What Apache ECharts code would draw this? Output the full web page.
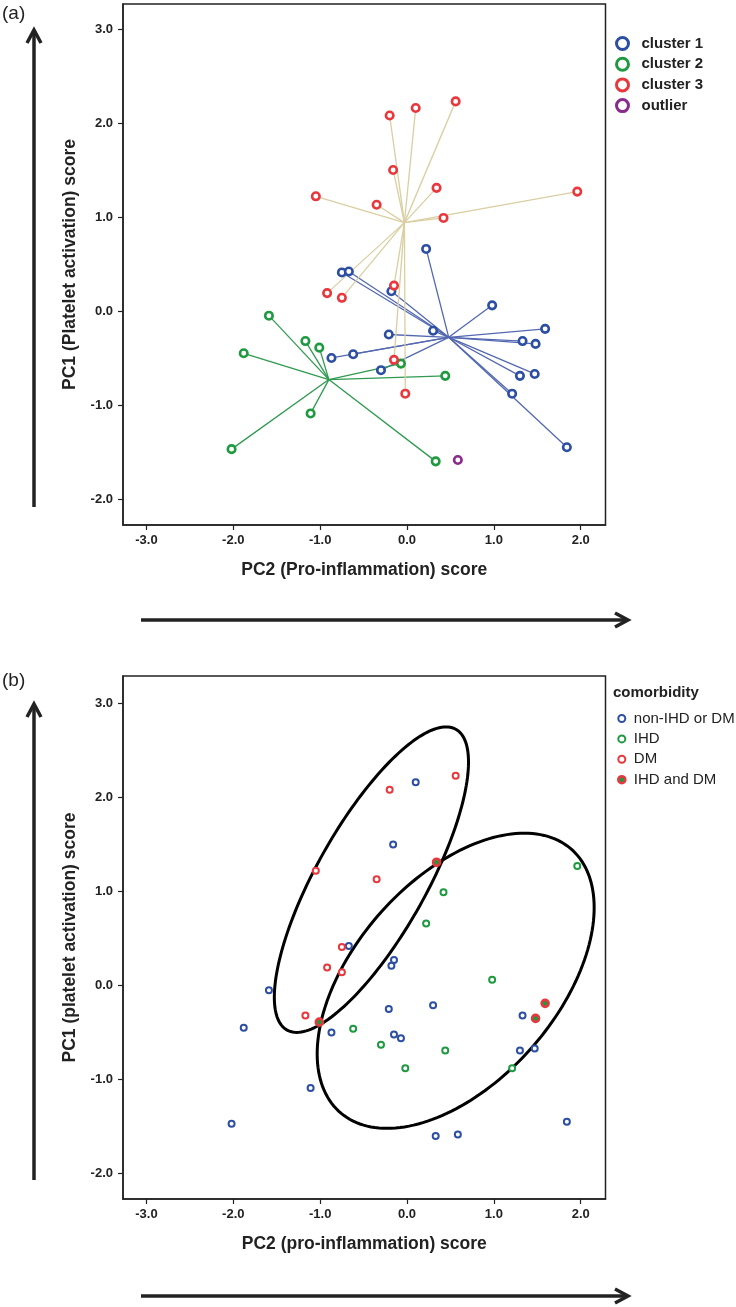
<!DOCTYPE html>
<html><head><meta charset="utf-8">
<script src="https://cdn.jsdelivr.net/npm/echarts@6/dist/echarts.min.js"></script>
<style>html,body{margin:0;padding:0;background:#fff}#c{width:736px;height:1307px}</style>
</head><body><div id="c"></div>
<script>
// ---- data (PC2 = x, PC1 = y), one entry per subject ----
const pc2 = [-0.20, 0.10, 0.56, -0.16, 0.34, -1.05, -0.35, 1.96, 0.42, -0.92, -0.75, -0.15, -0.15, -0.02,
  0.22, -0.75, -0.67, -0.18, 0.98, 0.30, -0.21, 1.59, 1.33, 1.48, -0.87, -0.62, -0.30, 1.30, 1.47, 1.21, 1.84,
  -1.59, -1.17, -1.01, -1.88, -0.07, 0.44, -1.11, -2.02, 0.33, 0.585];
const pc1 = [2.08, 2.16, 2.23, 1.50, 1.31, 1.22, 1.13, 1.27, 0.99, 0.19, 0.14, 0.27, -0.52, -0.88,
  0.66, 0.41, 0.42, 0.21, 0.06, -0.21, -0.25, -0.19, -0.32, -0.35, -0.50, -0.46, -0.63, -0.69, -0.67, -0.88, -1.45,
  -0.05, -0.32, -0.39, -0.45, -0.56, -0.69, -1.09, -1.47, -1.60, -1.585];
const clusterOf = ['cluster 3','cluster 3','cluster 3','cluster 3','cluster 3','cluster 3','cluster 3','cluster 3','cluster 3','cluster 3','cluster 3','cluster 3','cluster 3','cluster 3',
  'cluster 1','cluster 1','cluster 1','cluster 1','cluster 1','cluster 1','cluster 1','cluster 1','cluster 1','cluster 1','cluster 1','cluster 1','cluster 1','cluster 1','cluster 1','cluster 1','cluster 1',
  'cluster 2','cluster 2','cluster 2','cluster 2','cluster 2','cluster 2','cluster 2','cluster 2','cluster 2',
  'outlier'];
const comorbidityOf = ['DM','non-IHD or DM','DM','non-IHD or DM','IHD and DM','DM','DM','IHD','IHD','DM','DM','non-IHD or DM','non-IHD or DM','IHD',
  'IHD','DM','non-IHD or DM','non-IHD or DM','IHD','non-IHD or DM','non-IHD or DM','IHD and DM','non-IHD or DM','IHD and DM','non-IHD or DM','IHD','IHD','non-IHD or DM','non-IHD or DM','IHD','non-IHD or DM',
  'non-IHD or DM','DM','IHD and DM','non-IHD or DM','non-IHD or DM','IHD','non-IHD or DM','non-IHD or DM','non-IHD or DM',
  'non-IHD or DM'];
const clusterNames = ['cluster 1','cluster 2','cluster 3','outlier'];
const centroidPC2 = [0.48, -0.90, -0.03];
const centroidPC1 = [-0.28, -0.73, 0.94];
const comorbidityNames = ['non-IHD or DM','IHD','DM','IHD and DM'];
// ellipses (panel b): centre and two conjugate semi-diameters, in score units
const ellipseCentrePC2 = [-0.41, 0.56];
const ellipseCentrePC1 = [1.125, 0.05];
const ellipseU_PC2 = [0.86, 0.79];
const ellipseU_PC1 = [1.624, 1.569];
const ellipseV_PC2 = [0.714, 1.385];
const xTicks = [-3, -2, -1, 0, 1, 2];
const yTicks = [-2, -1, 0, 1, 2, 3];

// ---- styles ----
const clusterColor = {'cluster 1':'#2c4ea3','cluster 2':'#1f9a40','cluster 3':'#e8383d','outlier':'#8a2a8c'};
const clusterLineColor = {'cluster 1':'#5368b0','cluster 2':'#2f9a50','cluster 3':'#d9cfa2'};
const comColor = {'non-IHD or DM':'#2c4ea3','IHD':'#1f9a40','DM':'#e8383d'};
const txt = '#222';
const FONT = '"Liberation Sans", Arial, sans-serif';

function axisPair(gridIndex, name, isX, min, max) {
  const ticks = isX ? xTicks : yTicks;
  return {
    type: 'value', gridIndex, min, max,
    name, nameLocation: 'middle', nameGap: isX ? 36 : 44,
    nameTextStyle: {fontFamily: FONT, fontSize: 17.5, fontWeight: 'bold', color: txt},
    axisLine: {show: true, onZero: false, lineStyle: {color: '#222', width: 1.5}},
    axisTick: {show: true, length: 5, customValues: ticks, lineStyle: {color: '#222', width: 1.2}},
    axisLabel: {customValues: ticks, margin: isX ? 9 : 10, formatter: v => Number(v).toFixed(1),
      fontFamily: FONT, fontSize: 13, fontWeight: 'bold', color: txt},
    splitLine: {show: false}
  };
}

const series = [];
// panel (a): spokes from cluster centroid to each member
['cluster 1','cluster 2','cluster 3'].forEach((cn, ci) => {
  const d = [];
  for (let i = 0; i < pc2.length; i++) if (clusterOf[i] === cn)
    d.push({coords: [[centroidPC2[ci], centroidPC1[ci]], [pc2[i], pc1[i]]]});
  series.push({type: 'lines', coordinateSystem: 'cartesian2d', xAxisIndex: 0, yAxisIndex: 0,
    silent: true, z: 2, data: d, lineStyle: {color: clusterLineColor[cn], width: 1.3, opacity: 1}});
});
clusterNames.forEach(cn => {
  const d = [];
  for (let i = 0; i < pc2.length; i++) if (clusterOf[i] === cn) d.push([pc2[i], pc1[i]]);
  series.push({type: 'scatter', name: cn, xAxisIndex: 0, yAxisIndex: 0, z: 4, data: d,
    symbol: 'circle', symbolSize: 7.5,
    itemStyle: {color: '#fff', borderColor: clusterColor[cn], borderWidth: 2.6, opacity: 1}});
});
// panel (b): ellipses
series.push({
  type: 'custom', xAxisIndex: 1, yAxisIndex: 1, z: 3, silent: true,
  data: ellipseCentrePC2.map((c, k) => [c, ellipseCentrePC1[k], ellipseU_PC2[k], ellipseU_PC1[k], ellipseV_PC2[k]]),
  encode: {x: 0, y: 1},
  renderItem: (params, api) => {
    const cx = api.value(0), cy = api.value(1), ux = api.value(2), uy = api.value(3), vx = api.value(4);
    const pts = [];
    for (let k = 0; k < 180; k++) {
      const t = k / 180 * Math.PI * 2;
      pts.push(api.coord([cx + ux * Math.cos(t) + vx * Math.sin(t), cy + uy * Math.cos(t)]));
    }
    return {type: 'polygon', shape: {points: pts}, style: {fill: 'none', stroke: '#000', lineWidth: 3}};
  }
});
comorbidityNames.forEach(cn => {
  const d = [];
  for (let i = 0; i < pc2.length; i++) if (comorbidityOf[i] === cn) d.push([pc2[i], pc1[i]]);
  const both = cn === 'IHD and DM';
  series.push({type: 'scatter', name: cn, xAxisIndex: 1, yAxisIndex: 1, z: 4, data: d,
    symbol: 'circle', symbolSize: both ? 7 : 6,
    itemStyle: both ? {color: '#1f9a40', borderColor: '#e8383d', borderWidth: 2.6, opacity: 1}
                    : {color: '#fff', borderColor: comColor[cn], borderWidth: 2, opacity: 1}});
});

const chart = echarts.init(document.getElementById('c'), null, {renderer: 'canvas'});
chart.setOption({
  backgroundColor: '#fff',
  animation: false,
  title: [
    {text: '(a)', left: 2, top: 4, padding: 0, textStyle: {fontFamily: FONT, fontSize: 19, fontWeight: 'normal', color: txt}},
    {text: '(b)', left: 2, top: 671, padding: 0, textStyle: {fontFamily: FONT, fontSize: 19, fontWeight: 'normal', color: txt}},
    {text: 'comorbidity', left: 613, top: 685, padding: 0, textStyle: {fontFamily: FONT, fontSize: 15, fontWeight: 'bold', color: txt}}
  ],
  grid: [
    {left: 123, top: 4, width: 482.5, height: 521, show: true, borderColor: '#222', borderWidth: 1.5, backgroundColor: '#fff'},
    {left: 123, top: 676, width: 482.5, height: 523, show: true, borderColor: '#222', borderWidth: 1.5, backgroundColor: '#fff'}
  ],
  xAxis: [axisPair(0, 'PC2 (Pro-inflammation) score', true, -3.27, 2.285),
          axisPair(1, 'PC2 (pro-inflammation) score', true, -3.27, 2.285)],
  yAxis: [axisPair(0, 'PC1 (Platelet activation) score', false, -2.277, 3.266),
          axisPair(1, 'PC1 (platelet activation) score', false, -2.27, 3.29)],
  legend: [
    {orient: 'vertical', left: 615, top: 36, itemWidth: 28, itemHeight: 12, itemGap: 5.7, selectedMode: false, padding: 0,
      textStyle: {fontFamily: FONT, fontSize: 15, fontWeight: 'bold', color: txt, lineHeight: 15},
      data: clusterNames.map(n => ({name: n, icon: 'circle', itemStyle: {color: '#fff', borderColor: clusterColor[n], borderWidth: 3}}))},
    {orient: 'vertical', left: 617, top: 711, itemWidth: 14, itemHeight: 7, itemGap: 5.4, selectedMode: false, padding: 0,
      textStyle: {fontFamily: FONT, fontSize: 15, fontWeight: 'normal', color: txt, lineHeight: 15},
      data: comorbidityNames.map(n => ({name: n, icon: 'circle', itemStyle: n === 'IHD and DM'
        ? {color: '#1f9a40', borderColor: '#e8383d', borderWidth: 2.6}
        : {color: '#fff', borderColor: comColor[n], borderWidth: 2}}))}
  ],
  graphic: [
    {type: 'line', shape: {x1: 34, y1: 507, x2: 34, y2: 31}, style: {stroke: '#222', lineWidth: 3.5}},
    {type: 'polyline', shape: {points: [[27, 43], [34, 30], [41, 43]]}, style: {stroke: '#222', lineWidth: 3.5, fill: null}},
    {type: 'line', shape: {x1: 141, y1: 620, x2: 627, y2: 620}, style: {stroke: '#222', lineWidth: 3.5}},
    {type: 'polyline', shape: {points: [[615, 613], [628, 620], [615, 627]]}, style: {stroke: '#222', lineWidth: 3.5, fill: null}},
    {type: 'line', shape: {x1: 34, y1: 1180, x2: 34, y2: 706}, style: {stroke: '#222', lineWidth: 3.5}},
    {type: 'polyline', shape: {points: [[27, 717], [34, 704], [41, 717]]}, style: {stroke: '#222', lineWidth: 3.5, fill: null}},
    {type: 'line', shape: {x1: 141, y1: 1296, x2: 627, y2: 1296}, style: {stroke: '#222', lineWidth: 3.5}},
    {type: 'polyline', shape: {points: [[615, 1289], [628, 1296], [615, 1303]]}, style: {stroke: '#222', lineWidth: 3.5, fill: null}}
  ],
  series
});
</script></body></html>
